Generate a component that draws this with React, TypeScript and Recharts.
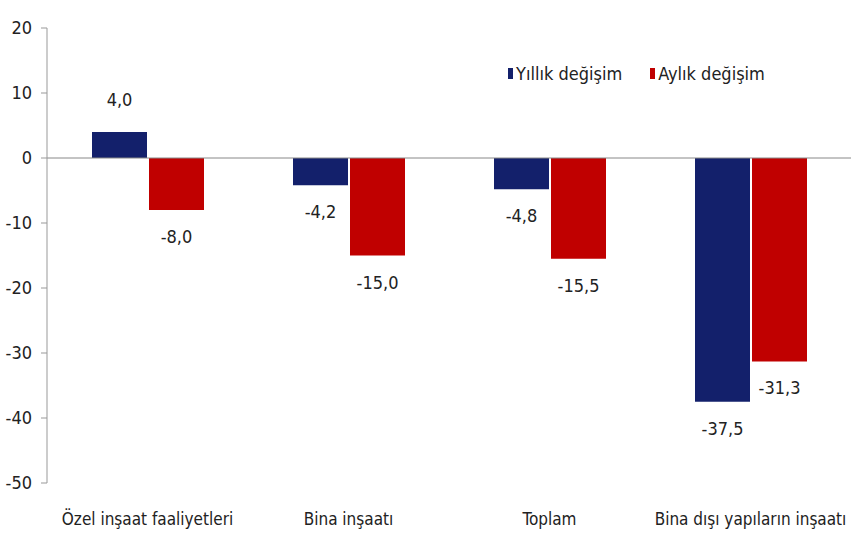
import { BarChart, Bar, XAxis, YAxis, ReferenceLine, LabelList } from 'recharts';

const categories = ['Özel inşaat faaliyetleri', 'Bina inşaatı', 'Toplam', 'Bina dışı yapıların inşaatı'];
const yillik = [4.0, -4.2, -4.8, -37.5];
const aylik = [-8.0, -15.0, -15.5, -31.3];
const yTicks = [20, 10, 0, -10, -20, -30, -40, -50];

const FONT = '"Liberation Sans Narrow", "DejaVu Sans Condensed", sans-serif';
const NAVY = '#13206b';
const RED = '#c00000';

const data = categories.map((name, i) => ({
  name,
  yillik: yillik[i],
  aylik: aylik[i],
}));

const fmt = (v: number) => v.toFixed(1).replace('.', ',');

// etiketi çubuğun ucunun biraz dışına yerleştir
const renderLabel = (props: any) => {
  const { x, y, width, height, value } = props;
  const cx = x + width / 2;
  const top = Math.min(y, y + height);
  const bottom = Math.max(y, y + height);
  const ty = value >= 0 ? top - 26 : bottom + 33;
  return (
    <text x={cx} y={ty} textAnchor="middle" fill="#222" fontSize={18} fontFamily={FONT}>
      {fmt(value)}
    </text>
  );
};

export default function App() {
  return (
    <div style={{ position: 'absolute', left: 0, top: 0, background: '#fff', width: 851, height: 543 }}>
      <BarChart
        width={851}
        height={543}
        data={data}
        margin={{ top: 28, right: 0, left: 0, bottom: 20 }}
        barSize={55}
        barGap={2}
      >
        <XAxis
          dataKey="name"
          axisLine={false}
          tickLine={false}
          height={40}
          tick={{ fill: '#222', fontSize: 17, fontFamily: FONT }}
          dy={22}
          interval={0}
        />
        <YAxis
          domain={[-50, 20]}
          ticks={yTicks}
          width={47}
          axisLine={{ stroke: '#999' }}
          tickLine={{ stroke: '#999' }}
          tickSize={6}
          tickMargin={9}
          tick={{ fill: '#222', fontSize: 18, fontFamily: FONT }}
          interval={0}
        />
        <ReferenceLine y={0} stroke="#888" />
        <Bar dataKey="yillik" name="Yıllık değişim" fill={NAVY} isAnimationActive={false}>
          <LabelList dataKey="yillik" content={renderLabel} />
        </Bar>
        <Bar dataKey="aylik" name="Aylık değişim" fill={RED} isAnimationActive={false}>
          <LabelList dataKey="aylik" content={renderLabel} />
        </Bar>
      </BarChart>
      <div
        style={{
          position: 'absolute',
          top: 63,
          left: 508,
          display: 'flex',
          gap: 28,
          fontFamily: FONT,
          fontSize: 18,
          color: '#222',
        }}
      >
        <div style={{ display: 'flex', alignItems: 'center', gap: 3 }}>
          <div style={{ width: 5, height: 11, background: NAVY }}></div>
          <span>Yıllık değişim</span>
        </div>
        <div style={{ display: 'flex', alignItems: 'center', gap: 3 }}>
          <div style={{ width: 5, height: 11, background: RED }}></div>
          <span>Aylık değişim</span>
        </div>
      </div>
    </div>
  );
}
